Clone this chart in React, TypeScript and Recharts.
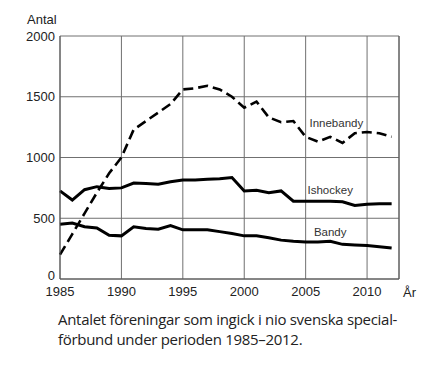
import { LineChart, Line, XAxis, YAxis, CartesianGrid, ReferenceLine, ReferenceDot } from 'recharts';

const years = [
    1985, 1986, 1987, 1988, 1989, 1990, 1991, 1992, 1993, 1994,
    1995, 1996, 1997, 1998, 1999, 2000, 2001, 2002, 2003, 2004,
    2005, 2006, 2007, 2008, 2009, 2010, 2011, 2012,
];
const innebandy = [
    200, 370, 540, 710, 870, 1000, 1230, 1300, 1370, 1440,
    1560, 1570, 1590, 1560, 1500, 1410, 1460, 1330, 1290, 1300,
    1170, 1130, 1170, 1120, 1200, 1210, 1200, 1170,
];
const ishockey = [
    725, 650, 735, 760, 745, 750, 790, 785, 780, 800,
    815, 815, 820, 825, 835, 725, 730, 710, 725, 640,
    640, 640, 640, 635, 605, 615, 620, 620,
];
const bandy = [
    450, 460, 430, 420, 360, 355, 430, 415, 410, 440,
    405, 405, 405, 390, 375, 355, 355, 340, 320, 310,
    305, 305, 310, 285, 280, 275, 265, 255,
];
const xTicks = [1985, 1990, 1995, 2000, 2005, 2010];
const yTicks = [0, 500, 1000, 1500, 2000];

const data = years.map((year, i) => ({
    year,
    innebandy: innebandy[i],
    ishockey: ishockey[i],
    bandy: bandy[i],
}));

const X_MAX = 2012.6;
const font = 'Arial, "Liberation Sans", sans-serif';
const tickStyle = { fontSize: 13, fill: '#222', fontFamily: font };
const labelStyle = { fontSize: 11.5, fill: '#333', fontFamily: font };

// y tick, the "0" sits a little higher so it clears the 1985 label
const YTick = ({ x, y, payload }: any) => (
    <text x={x} y={y} dy={payload.value === 0 ? 1 : 4.5} textAnchor="end" {...tickStyle}>
        {payload.value}
    </text>
);

export default function App() {
    return (
        <div style={{ position: 'absolute', left: 0, top: 0, width: 435, height: 369, background: '#fff' }}>
            <div style={{ position: 'absolute', left: 27, top: 12, fontSize: 13, color: '#222', fontFamily: font }}>
                Antal
            </div>
            <div style={{ position: 'absolute', left: 0, top: 0 }}>
                <LineChart width={435} height={300} data={data} margin={{ top: 36, right: 36, left: 0, bottom: 0 }}>
                    <CartesianGrid stroke="#707070" strokeWidth={1} />
                    <XAxis
                        dataKey="year"
                        type="number"
                        domain={[1985, X_MAX]}
                        ticks={xTicks}
                        height={21}
                        tickLine={false}
                        axisLine={{ stroke: '#555' }}
                        tick={tickStyle}
                        label={{ value: 'År', position: 'right', offset: 4, dy: 3, style: tickStyle }}
                    />
                    <YAxis
                        type="number"
                        domain={[0, 2000]}
                        ticks={yTicks}
                        width={60}
                        tickLine={false}
                        tickSize={5}
                        tickMargin={0}
                        axisLine={{ stroke: '#555' }}
                        tick={<YTick />}
                    />
                    <ReferenceLine x={X_MAX} stroke="#555" />
                    <Line
                        dataKey="innebandy"
                        stroke="#000"
                        strokeWidth={2.6}
                        strokeDasharray="10 5"
                        dot={false}
                        isAnimationActive={false}
                    />
                    <Line dataKey="ishockey" stroke="#000" strokeWidth={3} dot={false} isAnimationActive={false} />
                    <Line dataKey="bandy" stroke="#000" strokeWidth={3} dot={false} isAnimationActive={false} />
                    <ReferenceDot x={2007.5} y={1285} r={0} label={{ value: 'Innebandy', position: 'center', style: labelStyle }} />
                    <ReferenceDot x={2007} y={733} r={0} label={{ value: 'Ishockey', position: 'center', style: labelStyle }} />
                    <ReferenceDot x={2007} y={387} r={0} label={{ value: 'Bandy', position: 'center', style: labelStyle }} />
                </LineChart>
            </div>
            <div
                style={{
                    position: 'absolute',
                    left: 58,
                    top: 309,
                    width: 370,
                    fontSize: 15,
                    lineHeight: '20px',
                    color: '#222',
                    fontFamily: '"Open Sans", sans-serif',
                    letterSpacing: -0.3,
                }}
            >
                Antalet föreningar som ingick i nio svenska special-
                <br />
                förbund under perioden 1985–2012.
            </div>
        </div>
    );
}
